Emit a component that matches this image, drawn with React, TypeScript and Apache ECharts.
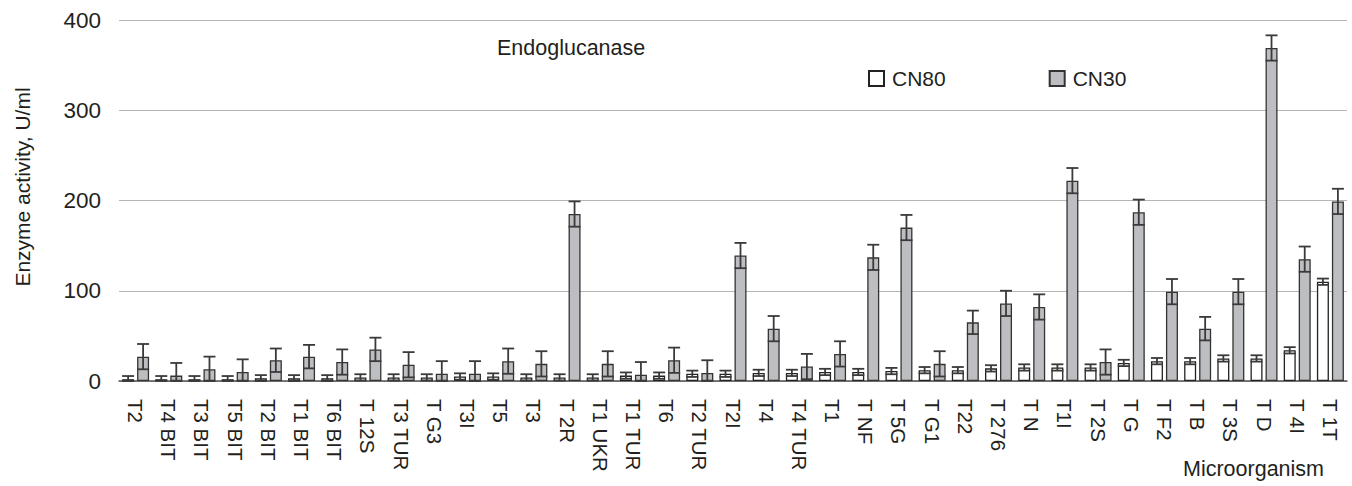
import React, { useEffect, useRef } from "react";
import * as echarts from "echarts";

const categories = ["T2","T4 BIT","T3 BIT","T5 BIT","T2 BIT","T1 BIT","T6 BIT","T 12S","T3 TUR","T G3","T3I","T5","T3","T 2R","T1 UKR","T1 TUR","T6","T2 TUR","T2I","T4","T4 TUR","T1","T NF","T 5G","T G1","T22","T 276","T N","T1I","T 2S","T G","T F2","T B","T 3S","T D","T 4I","T 1T"];
const cn80 = [2,2,2,2,3,3,3,4,4,4,5,5,4,4,4,6,6,8,8,9,9,10,10,11,12,12,14,15,15,15,20,22,22,25,25,34,110];
const cn80Err = [3.5,3.5,3.5,3.5,3.5,3.5,3.5,3.5,3.5,3.5,3.5,3.5,3.5,3.5,3.5,3.5,3.5,3.5,3.5,3.5,3.5,3.5,3.5,3.5,3.5,3.5,3.5,3.5,3.5,3.5,3.5,3.5,3.5,3.5,3.5,3.5,3.5];
const cn30 = [27,6,13,10,23,27,21,35,18,8,8,22,19,185,19,7,23,9,139,58,16,30,137,170,19,65,86,82,222,21,187,99,58,99,369,135,199];
const cn30Err = [14,14,14,14,13,13,14,13,14,14,14,14,14,14,14,14,14,14,14,14,14,14,14,14,14,13,14,14,14,14,14,14,13,14,14,14,14];
const yTicks = [0, 100, 200, 300, 400];

const FONT = "Liberation Sans, Arial, sans-serif";
const TXT = "#231f20";

function errSeries(name: string, vals: number[], errs: number[], offset: number) {
  return {
    type: "custom",
    name,
    z: 10,
    silent: true,
    data: vals.map((v, i) => [i, v, errs[i]]),
    renderItem: (params: any, api: any) => {
      const i = api.value(0);
      const v = api.value(1);
      const e = api.value(2);
      const hi = api.coord([i, v + e]);
      const lo = api.coord([i, Math.max(0, v - e)]);
      const x = hi[0] + offset;
      const hw = 6;
      const st = { stroke: "#3a3a3a", lineWidth: 1.8 };
      return {
        type: "group",
        children: [
          { type: "line", shape: { x1: x, y1: hi[1], x2: x, y2: lo[1] }, style: st },
          { type: "line", shape: { x1: x - hw, y1: hi[1], x2: x + hw, y2: hi[1] }, style: st },
          { type: "line", shape: { x1: x - hw, y1: lo[1], x2: x + hw, y2: lo[1] }, style: st },
        ],
      };
    },
  };
}

export default function App() {
  const ref = useRef<HTMLDivElement>(null);
  useEffect(() => {
    if (!ref.current) return;
    const chart = echarts.init(ref.current, null, { renderer: "svg" });
    chart.setOption({
      animation: false,
      textStyle: { fontFamily: FONT },
      grid: { left: 119, right: 5, top: 20, bottom: 105, containLabel: false },
      legend: {
        data: ["CN80", "CN30"],
        left: 863,
        top: 63,
        itemWidth: 15,
        itemHeight: 15,
        itemGap: 103,
        icon: "rect",
        textStyle: { fontSize: 21, color: TXT, fontFamily: FONT, padding: [0, 0, 0, 3] },
      },
      xAxis: {
        type: "category",
        data: categories,
        axisLine: { show: true, lineStyle: { color: "#555", width: 1.5 } },
        axisTick: { show: false },
        axisLabel: {
          rotate: -90,
          interval: 0,
          margin: 18,
          fontSize: 20.5,
          color: TXT,
          fontFamily: FONT,
        },
      },
      yAxis: {
        type: "value",
        min: yTicks[0],
        max: yTicks[yTicks.length - 1],
        interval: 100,
        axisLine: { show: false },
        axisTick: { show: false },
        splitLine: { lineStyle: { color: "#b5b5b5", width: 1.2 } },
        axisLabel: { fontSize: 22.5, color: TXT, margin: 18, fontFamily: FONT },
      },
      series: [
        {
          type: "bar",
          name: "CN80",
          data: cn80,
          barWidth: 12,
          barGap: "25%",
          itemStyle: { color: "#ffffff", borderColor: "#222", borderWidth: 1.3 },
        },
        {
          type: "bar",
          name: "CN30",
          data: cn30,
          barWidth: 12,
          barGap: "25%",
          itemStyle: { color: "#bdbec1", borderColor: "#333", borderWidth: 1.3 },
        },
        errSeries("CN80 err", cn80, cn80Err, -7.5),
        errSeries("CN30 err", cn30, cn30Err, 7.5),
      ],
      graphic: [
        {
          type: "text",
          x: 22,
          y: 187,
          rotation: Math.PI / 2,
          style: {
            text: "Enzyme activity, U/ml",
            align: "center",
            verticalAlign: "middle",
            fontSize: 21,
            fontFamily: FONT,
            fill: TXT,
          },
        },
        {
          type: "text",
          x: 497,
          y: 48,
          style: {
            text: "Endoglucanase",
            align: "left",
            verticalAlign: "middle",
            fontSize: 21.5,
            fontFamily: FONT,
            fill: TXT,
          },
        },
        {
          type: "text",
          x: 1183,
          y: 469,
          style: {
            text: "Microorganism",
            align: "left",
            verticalAlign: "middle",
            fontSize: 21.5,
            fontFamily: FONT,
            fill: TXT,
          },
        },
      ],
    });
    return () => chart.dispose();
  }, []);
  return <div ref={ref} style={{ width: 1352, height: 486, position: "absolute", left: 0, top: 0 }} />;
}
